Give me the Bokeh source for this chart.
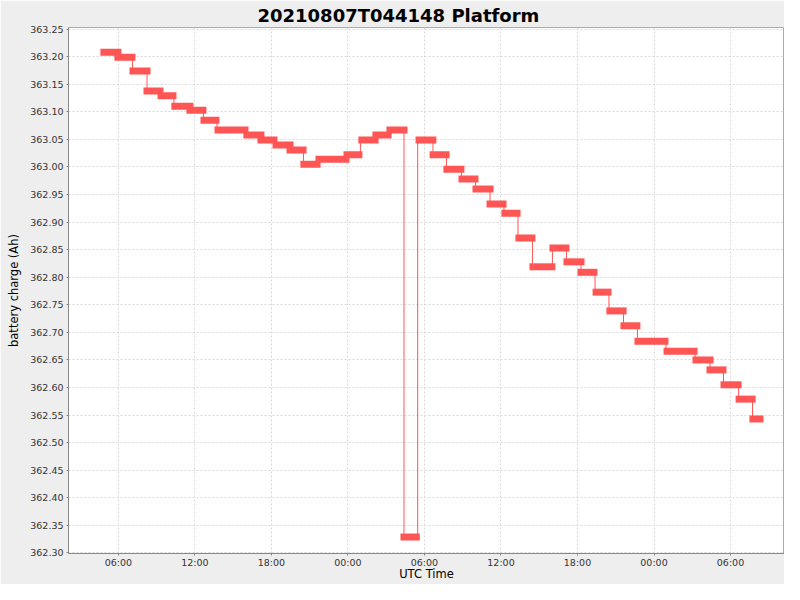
import pandas as pd
from bokeh.plotting import figure
from bokeh.models import Range1d, FixedTicker, NumeralTickFormatter, DatetimeTickFormatter
from bokeh.embed import file_html
from bokeh.resources import INLINE

title_text = "20210807T044148 Platform"
x_label = "UTC Time"
y_label = "battery charge (Ah)"

bar_start = [
    "2021-08-07 04:35", "2021-08-07 05:41", "2021-08-07 06:52", "2021-08-07 07:58",
    "2021-08-07 09:04", "2021-08-07 10:09", "2021-08-07 11:20", "2021-08-07 12:26",
    "2021-08-07 13:32", "2021-08-07 15:48", "2021-08-07 16:54", "2021-08-07 18:05",
    "2021-08-07 19:11", "2021-08-07 20:16", "2021-08-07 21:27", "2021-08-07 23:39",
    "2021-08-08 00:49", "2021-08-08 01:55", "2021-08-08 03:01", "2021-08-08 04:07",
    "2021-08-08 05:18", "2021-08-08 06:24", "2021-08-08 07:29", "2021-08-08 08:40",
    "2021-08-08 09:46", "2021-08-08 10:52", "2021-08-08 12:02", "2021-08-08 13:08",
    "2021-08-08 14:14", "2021-08-08 15:48", "2021-08-08 16:54", "2021-08-08 18:00",
    "2021-08-08 19:11", "2021-08-08 20:16", "2021-08-08 21:22", "2021-08-08 22:28",
    "2021-08-09 00:45", "2021-08-09 03:01", "2021-08-09 04:07", "2021-08-09 05:13",
    "2021-08-09 06:24", "2021-08-09 07:29",
]
bar_end = [
    "2021-08-07 06:14", "2021-08-07 07:20", "2021-08-07 08:31", "2021-08-07 09:32",
    "2021-08-07 10:33", "2021-08-07 11:53", "2021-08-07 12:54", "2021-08-07 13:55",
    "2021-08-07 16:12", "2021-08-07 17:27", "2021-08-07 18:28", "2021-08-07 19:44",
    "2021-08-07 20:45", "2021-08-07 21:51", "2021-08-08 00:07", "2021-08-08 01:08",
    "2021-08-08 02:24", "2021-08-08 03:25", "2021-08-08 04:40", "2021-08-08 05:38",
    "2021-08-08 06:56", "2021-08-08 07:58", "2021-08-08 09:08", "2021-08-08 10:14",
    "2021-08-08 11:25", "2021-08-08 12:26", "2021-08-08 13:32", "2021-08-08 14:42",
    "2021-08-08 16:16", "2021-08-08 17:22", "2021-08-08 18:33", "2021-08-08 19:34",
    "2021-08-08 20:40", "2021-08-08 21:51", "2021-08-08 22:56", "2021-08-09 01:08",
    "2021-08-09 03:25", "2021-08-09 04:40", "2021-08-09 05:41", "2021-08-09 06:52",
    "2021-08-09 07:58", "2021-08-09 08:35",
]
charge = [
    363.208, 363.199, 363.174, 363.138, 363.129, 363.110, 363.103, 363.085,
    363.067, 363.058, 363.049, 363.040, 363.031, 363.005, 363.014, 363.022,
    363.049, 363.058, 363.067, 362.329, 363.049, 363.022, 362.996, 362.978,
    362.960, 362.933, 362.916, 362.871, 362.819, 362.853, 362.828, 362.809,
    362.773, 362.739, 362.712, 362.684, 362.666, 362.650, 362.632, 362.605,
    362.579, 362.543,
]

y_ticks = [362.30, 362.35, 362.40, 362.45, 362.50, 362.55, 362.60, 362.65, 362.70,
           362.75, 362.80, 362.85, 362.90, 362.95, 363.00, 363.05, 363.10, 363.15,
           363.20, 363.25]
x_ticks = ["2021-08-07 06:00", "2021-08-07 12:00", "2021-08-07 18:00", "2021-08-08 00:00",
           "2021-08-08 06:00", "2021-08-08 12:00", "2021-08-08 18:00", "2021-08-09 00:00",
           "2021-08-09 06:00"]
x_limits = ["2021-08-07 02:05", "2021-08-09 10:14"]
y_limits = [362.299, 363.253]


def to_ms(strings):
    return list(pd.to_datetime(strings).asi8 // 1_000_000)


s_ms = to_ms(bar_start)
e_ms = to_ms(bar_end)
centers = [(a + b) / 2 for a, b in zip(s_ms, e_ms)]
widths = [b - a for a, b in zip(s_ms, e_ms)]

# connecting line: transitions at the middle of the overlap of consecutive bars
lx, ly = [], []
for i in range(len(charge) - 1):
    mid = (e_ms[i] + s_ms[i + 1]) / 2
    lx += [mid, mid]
    ly += [charge[i], charge[i + 1]]

xl = to_ms(x_limits)
p = figure(width=784, height=584, output_backend="svg", toolbar_location=None,
           x_axis_type="datetime",
           x_range=Range1d(xl[0], xl[1]), y_range=Range1d(*y_limits),
           title=title_text,
           min_border_left=68, min_border_right=0,
           min_border_top=27, min_border_bottom=31)

FONT = "DejaVu Sans"
RED = "#FF5555"

p.background_fill_color = "white"
p.border_fill_color = "#EEEEEE"
p.outline_line_color = "#AAAAAA"

p.title.text_font = FONT
p.title.text_font_size = "18px"
p.title.text_font_style = "bold"
p.title.align = "left"
p.title.offset = 189
p.title.text_color = "black"
p.title.standoff = 4

p.line(lx, ly, line_color=RED, line_width=1)
p.rect(x=centers, y=charge, width=widths, height=7, height_units="screen",
       fill_color=RED, line_color=None)

p.xaxis.ticker = FixedTicker(ticks=to_ms(x_ticks))
fmt = "%H:%M"
p.xaxis.formatter = DatetimeTickFormatter(microseconds=fmt, milliseconds=fmt, seconds=fmt,
                                          minsec=fmt, minutes=fmt, hourmin=fmt, hours=fmt,
                                          days=fmt, months=fmt, years=fmt)
p.yaxis.ticker = FixedTicker(ticks=y_ticks)
p.yaxis.formatter = NumeralTickFormatter(format="0.00")

for ax in (p.xaxis[0], p.yaxis[0]):
    ax.axis_line_color = "#888888"
    ax.major_tick_line_color = "#888888"
    ax.major_tick_out = 2
    ax.major_tick_in = 0
    ax.minor_tick_line_color = None
    ax.major_label_text_font = FONT
    ax.major_label_text_font_size = "9.5px"
    ax.major_label_text_color = "#333333"
    ax.axis_label_text_font = FONT
    ax.axis_label_text_font_size = "11.5px"
    ax.axis_label_text_font_style = "normal"
    ax.axis_label_text_color = "black"

p.yaxis.major_label_standoff = 3
p.yaxis.axis_label_standoff = 6
p.yaxis.axis_label = y_label
p.xaxis.major_label_standoff = 1
p.xaxis.axis_label_standoff = -4
p.xaxis.axis_label = x_label

for g in (p.xgrid[0], p.ygrid[0]):
    g.grid_line_color = "#D8D8D8"
    g.grid_line_dash = "2 2"
    g.grid_line_width = 1

open("out.html", "w").write(file_html(p, INLINE))
